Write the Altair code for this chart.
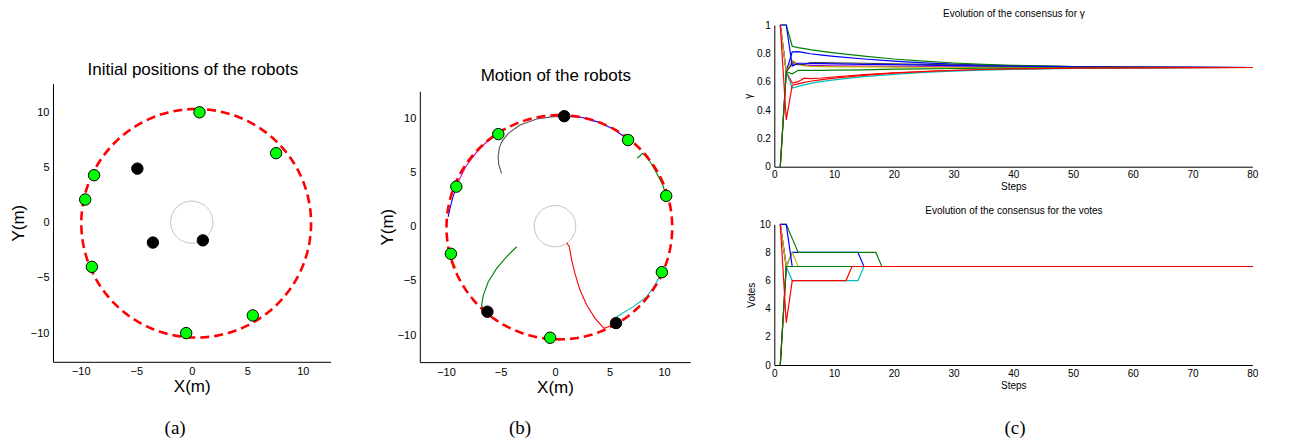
import altair as alt
import numpy as np
import pandas as pd

W, H = 1276, 437
SANS = "Liberation Sans"
SERIF = "Liberation Serif"

# ---------------- (a) initial positions ----------------
green_init_x = [0.7, 7.6, -8.8, -9.6, -9.0, -0.5, 5.5]
green_init_y = [10.0, 6.3, 4.3, 2.1, -4.0, -10.0, -8.4]
black_init_x = [-4.9, -3.5, 1.0]
black_init_y = [4.9, -1.8, -1.6]

# ---------------- (b) final positions + motion ----------------
green_final_x = [-5.2, 6.7, 10.2, -9.05, -9.55, 9.8, -0.45]
green_final_y = [8.55, 8.0, 2.85, 3.7, -2.5, -4.2, -10.25]
black_final_x = [0.85, -6.2, 5.6]
black_final_y = [10.2, -7.85, -8.9]

formation_cx, formation_cy, formation_r = 0.4, -0.05, 10.35
obstacle_cx, obstacle_cy, obstacle_r = 0.0, 0.05, 1.9

traj_names = ["k", "g1", "r", "b1", "g2", "m", "b2", "y", "c"]
traj_colors = ["#555555", "#008000", "#ff0000", "#0000ff", "#008000",
               "#cc00cc", "#0000ff", "#c8c800", "#00c0c0"]
traj_x = [
    [-4.9, -5.15, -5.22, -5.1, -4.85, -4.28, -3.21, -1.68, -0.16, 0.85],
    [-3.52, -4.43, -5.35, -6.12, -6.57, -6.73, -6.57, -6.2],
    [1.07, 1.31, 1.53, 1.83, 2.29, 2.91, 3.67, 4.5, 4.89, 5.6],
    [0.85, 2.4, 3.9, 5.4, 6.7],
    [7.55, 8.04, 8.72, 9.33, 9.88, 10.18],
    [-5.2, -6.35, -7.3, -8.15, -8.8, -9.05],
    [-9.05, -9.4, -9.65, -9.8],
    [-9.55, -9.35, -9.05],
    [5.66, 7.19, 8.41, 9.17, 9.8],
]
traj_y = [
    [4.93, 5.7, 6.46, 7.3, 7.9, 8.62, 9.39, 9.94, 10.16, 10.2],
    [-1.85, -2.77, -3.85, -5.08, -6.31, -7.23, -7.69, -7.85],
    [-1.48, -1.85, -3.08, -4.31, -5.85, -7.23, -8.46, -9.38, -9.23, -8.89],
    [10.2, 10.1, 9.68, 9.0, 8.05],
    [6.32, 6.78, 6.0, 4.93, 3.85, 2.93],
    [8.6, 7.75, 6.75, 5.6, 4.3, 3.7],
    [3.7, 2.6, 1.6, 0.9],
    [-2.5, -3.2, -3.85],
    [-8.31, -7.38, -6.46, -5.38, -4.2],
]

# ---------------- (c) consensus ----------------
robot_ids = list(range(1, 11))
robot_colors = ["#0000ff", "#008000", "#ff0000", "#00bfbf", "#bf00bf",
                "#bfbf00", "#404040", "#0000ff", "#008000", "#ff0000"]

gamma_steps = [1, 2, 3, 4, 5, 6, 8, 10, 15, 20, 25, 30, 35, 40, 50, 60, 70, 80]
gamma_values = [
    [1.0, 0.67, 0.81, 0.812, 0.805, 0.797, 0.787, 0.778, 0.76, 0.745, 0.733, 0.724, 0.717, 0.712, 0.706, 0.703, 0.701, 0.70],
    [1.0, 1.0, 0.85, 0.84, 0.833, 0.826, 0.814, 0.803, 0.78, 0.76, 0.745, 0.732, 0.722, 0.715, 0.707, 0.703, 0.701, 0.70],
    [0.0, 0.67, 0.59, 0.60, 0.625, 0.622, 0.626, 0.633, 0.65, 0.663, 0.672, 0.68, 0.686, 0.69, 0.695, 0.698, 0.699, 0.70],
    [1.0, 0.67, 0.555, 0.567, 0.578, 0.588, 0.602, 0.613, 0.635, 0.652, 0.665, 0.674, 0.682, 0.687, 0.694, 0.697, 0.699, 0.70],
    [1.0, 0.67, 0.74, 0.725, 0.718, 0.715, 0.713, 0.712, 0.71, 0.708, 0.707, 0.705, 0.704, 0.703, 0.702, 0.701, 0.70, 0.70],
    [1.0, 0.67, 0.75, 0.725, 0.712, 0.708, 0.706, 0.705, 0.704, 0.703, 0.702, 0.702, 0.701, 0.701, 0.70, 0.70, 0.70, 0.70],
    [0.0, 0.67, 0.725, 0.72, 0.72, 0.735, 0.734, 0.733, 0.73, 0.726, 0.722, 0.718, 0.714, 0.711, 0.706, 0.703, 0.701, 0.70],
    [1.0, 1.0, 0.71, 0.73, 0.73, 0.728, 0.727, 0.725, 0.722, 0.72, 0.717, 0.714, 0.711, 0.709, 0.705, 0.702, 0.701, 0.70],
    [0.0, 0.67, 0.655, 0.68, 0.68, 0.68, 0.68, 0.681, 0.684, 0.688, 0.69, 0.693, 0.695, 0.696, 0.698, 0.699, 0.70, 0.70],
    [1.0, 0.33, 0.575, 0.585, 0.595, 0.603, 0.615, 0.625, 0.645, 0.66, 0.671, 0.679, 0.686, 0.69, 0.695, 0.698, 0.699, 0.70],
]

vote_steps = [1, 2, 3, 4, 12, 13, 14, 15, 17, 18, 80]
vote_values = [
    [10, 7, 8, 8, 8, 8, 8, 7, 7, 7, 7],
    [10, 10, 9, 8, 8, 8, 8, 8, 8, 7, 7],
    [0, 7, 7, 7, 7, 7, 7, 7, 7, 7, 7],
    [10, 7, 6, 6, 6, 6, 6, 7, 7, 7, 7],
    [10, 7, 7, 7, 7, 7, 7, 7, 7, 7, 7],
    [10, 7, 8, 7, 7, 7, 7, 7, 7, 7, 7],
    [0, 7, 7, 7, 7, 7, 7, 7, 7, 7, 7],
    [10, 10, 7, 7, 7, 7, 7, 7, 7, 7, 7],
    [0, 7, 7, 7, 7, 7, 7, 7, 7, 7, 7],
    [10, 3, 6, 6, 6, 7, 7, 7, 7, 7, 7],
]

titles = ["Initial positions of the robots", "Motion of the robots",
          "Evolution of the consensus for \u03b3", "Evolution of the consensus for the votes"]
captions = ["(a)", "(b)", "(c)"]

# ---------------- layout (view pixels) ----------------
PA_X, PA_Y = (45.0, 322.5), (353.8, 75.6)
PB_X, PB_Y = (411.8, 682.2), (354.1, 83.3)
PC_X = (766.3, 1244.3)
PC1_Y = (158.7, 17.0)
PC2_Y = (357.0, 216.3)

# ---------------- dataframes ----------------
def circle_df(cx, cy, r, n=241):
    t = np.linspace(np.pi / 2, np.pi / 2 + 2 * np.pi, n)
    return pd.DataFrame({"x": cx + r * np.cos(t), "y": cy + r * np.sin(t), "i": np.arange(n)})

formation = circle_df(formation_cx, formation_cy, formation_r)
obstacle = circle_df(obstacle_cx, obstacle_cy, obstacle_r)
g_init = pd.DataFrame({"x": green_init_x, "y": green_init_y})
k_init = pd.DataFrame({"x": black_init_x, "y": black_init_y})
g_fin = pd.DataFrame({"x": green_final_x, "y": green_final_y})
k_fin = pd.DataFrame({"x": black_final_x, "y": black_final_y})

rows = []
for name, xs, ys in zip(traj_names, traj_x, traj_y):
    for i, (a, b) in enumerate(zip(xs, ys)):
        rows.append({"path": name, "x": a, "y": b, "i": i})
traj = pd.DataFrame(rows)

# ---------------- encodings ----------------
ax_common = dict(grid=False, ticks=False, domainColor="#000", domainWidth=1,
                 labelColor="#000", titleColor="#000", labelFont=SANS, titleFont=SANS,
                 titleFontWeight="normal", labelFlush=False, labelOverlap=False, format=".6~g")


def enc(xr, yr, xdom, ydom, xvals, yvals, xtitle, ytitle, lsize, tsize, xlp, xtp, ylp, ytp):
    X = alt.X("x:Q", scale=alt.Scale(domain=xdom, range=list(xr), nice=False, zero=False),
              axis=alt.Axis(orient="bottom", offset=yr[0] - H, values=xvals, title=xtitle,
                            labelFontSize=lsize, titleFontSize=tsize, labelPadding=xlp,
                            titlePadding=xtp, **ax_common))
    Y = alt.Y("y:Q", scale=alt.Scale(domain=ydom, range=list(yr), nice=False, zero=False),
              axis=alt.Axis(orient="left", offset=-xr[0], values=yvals, title=ytitle,
                            labelFontSize=lsize, titleFontSize=tsize, labelPadding=ylp,
                            titlePadding=ytp, **ax_common))
    return X, Y


ticks_m = [-10, -5, 0, 5, 10]
XA, YA = enc(PA_X, PA_Y, [-12.5, 12.5], [-12.6, 12.6], ticks_m, ticks_m, "X(m)", "Y(m)", 11, 17, 4, 2, 4, 3)
XB, YB = enc(PB_X, PB_Y, [-12.4, 12.4], [-12.5, 12.5], ticks_m, ticks_m, "X(m)", "Y(m)", 11, 17, 4, 2, 4, 1)
steps_ticks = list(range(0, 81, 10))
XC1, YC1 = enc(PC_X, PC1_Y, [0, 80], [0, 1], steps_ticks, [0, 0.2, 0.4, 0.6, 0.8, 1],
               "Steps", "\u03b3", 10, 10, 3, 2, 4, 3)
XC2, YC2 = enc(PC_X, PC2_Y, [0, 80], [0, 10], steps_ticks, [0, 2, 4, 6, 8, 10],
               "Steps", "Votes", 10, 10, 3, 2, 4, 3)


def circle_layers(X, Y):
    dashed = alt.Chart(formation).mark_line(color="#ff0000", strokeWidth=2.6, strokeDash=[9, 5]).encode(
        x=X, y=Y, order="i:Q")
    obst = alt.Chart(obstacle).mark_line(color="#aaaaaa", strokeWidth=0.8).encode(x=X, y=Y, order="i:Q")
    return dashed, obst


def robots(X, Y, gdf, kdf):
    g = alt.Chart(gdf).mark_point(shape="circle", filled=True, size=130, fill="#00ff00",
                                  stroke="#000", strokeWidth=1, opacity=1).encode(x=X, y=Y)
    k = alt.Chart(kdf).mark_point(shape="circle", filled=True, size=130, fill="#000",
                                  stroke="#000", strokeWidth=1, opacity=1).encode(x=X, y=Y)
    return g, k


def label(X, Y, x, y, text, size, font):
    return alt.Chart(pd.DataFrame({"x": [x], "y": [y], "t": [text]})).mark_text(
        font=font, fontSize=size, align="center", baseline="middle", color="#000").encode(
        x=X, y=Y, text="t:N")


def robot_lines(X, Y, steps, values):
    layers = []
    for r, col, vals in zip(robot_ids, robot_colors, values):
        df = pd.DataFrame({"x": steps, "y": vals, "robot": r})
        layers.append(alt.Chart(df).mark_line(color=col, strokeWidth=1.2).encode(x=X, y=Y))
    return layers


# panel (a)
da, oa = circle_layers(XA, YA)
ga, ka = robots(XA, YA, g_init, k_init)
panel_a = alt.layer(oa, da, ga, ka,
                    label(XA, YA, 0.1, 13.85, titles[0], 17, SANS),
                    label(XA, YA, -1.5, -18.6, captions[0], 19, SERIF))

# panel (b)
db, ob = circle_layers(XB, YB)
gb, kb = robots(XB, YB, g_fin, k_fin)
paths = alt.Chart(traj).mark_line(strokeWidth=1.1).encode(
    x=XB, y=YB, order="i:Q",
    color=alt.Color("path:N", scale=alt.Scale(domain=traj_names, range=traj_colors), legend=None))
panel_b = alt.layer(ob, paths, db, gb, kb,
                    label(XB, YB, 0.07, 13.95, titles[1], 17, SANS),
                    label(XB, YB, -3.2, -18.6, captions[1], 19, SERIF))

# panel (c)
panel_c1 = alt.layer(*robot_lines(XC1, YC1, gamma_steps, gamma_values),
                     label(XC1, YC1, 40.1, 1.078, titles[2], 10, SANS))
panel_c2 = alt.layer(*robot_lines(XC2, YC2, vote_steps, vote_values),
                     label(XC2, YC2, 40.1, 10.97, titles[3], 10, SANS),
                     label(XC2, YC2, 40.3, -4.45, captions[2], 19, SERIF))

chart = alt.layer(panel_a, panel_b, panel_c1, panel_c2).resolve_scale(
    x="independent", y="independent", color="independent"
).properties(
    width=W, height=H, padding=0, autosize=alt.AutoSizeParams(type="none")
).configure_view(stroke=None)

chart.save("out.html", embed_options={"renderer": "svg", "actions": False})
